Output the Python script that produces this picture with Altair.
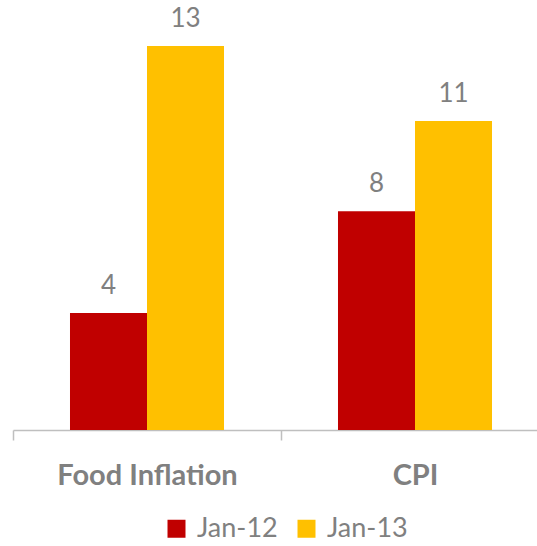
import altair as alt
import pandas as pd

categories = ["Food Inflation", "CPI"]
series = ["Jan-12", "Jan-13"]
jan12 = [3.96, 7.41]
jan13 = [13.0, 10.46]
labels12 = ["4", "8"]
labels13 = ["13", "11"]
colors = ["#C00000", "#FFC000"]

rows = []
for i, c in enumerate(categories):
    rows.append({"cat": c, "series": series[0], "value": jan12[i], "label": labels12[i]})
    rows.append({"cat": c, "series": series[1], "value": jan13[i], "label": labels13[i]})
df = pd.DataFrame(rows)

FONT = "Lato"
GRAY = "#808080"

x = alt.X("cat:N", sort=categories, title=None,
          scale=alt.Scale(range=[0, 536], paddingInner=0, paddingOuter=0),
          axis=alt.Axis(labelAngle=0, labelFont=FONT, labelFontSize=29, labelFontWeight="bold",
                        labelColor=GRAY, domainColor="#bfbfbf", tickColor="#bfbfbf",
                        tickSize=10, tickBand="extent", labelPadding=21, domainWidth=1.5,
                        tickWidth=1.5, labelLimit=400))
xo = alt.XOffset("series:N", sort=series, scale=alt.Scale(paddingInner=0, paddingOuter=0.74))
y = alt.Y("value:Q", axis=None, scale=alt.Scale(domain=[0, 14.56], nice=False))

bars = alt.Chart(df).mark_bar().encode(
    x=x, xOffset=xo, y=y,
    color=alt.Color("series:N", sort=series,
                    scale=alt.Scale(domain=series, range=colors),
                    legend=alt.Legend(title=None, orient="none", direction="horizontal",
                                      legendX=150, legendY=515, symbolType="square",
                                      symbolSize=324, symbolStrokeWidth=0, labelFont=FONT,
                                      labelFontSize=27, labelColor=GRAY, columnPadding=15,
                                      symbolOffset=0, labelOffset=7, padding=0))
)

text = alt.Chart(df).mark_text(font=FONT, fontSize=26, color=GRAY, baseline="alphabetic", dy=-19).encode(
    x=x, xOffset=xo, y=y, text="label:N"
)

chart = (bars + text).properties(width=524, height=430).configure_view(stroke=None).properties(
    autosize=alt.AutoSizeParams(type="none"), padding={"left": 13, "top": 0, "right": 0, "bottom": 116}
)

chart.save("out.html", embed_options={"renderer": "svg", "actions": False})
